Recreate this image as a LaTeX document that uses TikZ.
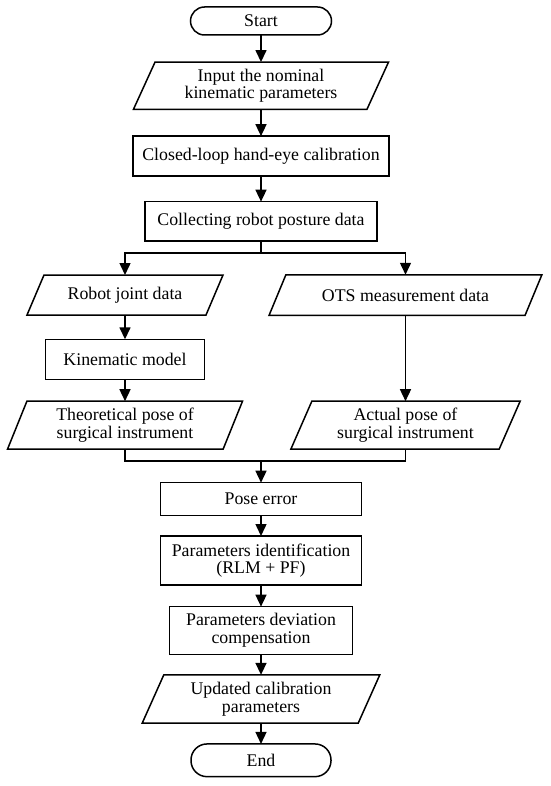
\documentclass[tikz,border=0pt]{standalone}
\usepackage{fontspec}
\setmainfont{Liberation Serif}
\usetikzlibrary{arrows.meta,calc}
\newcommand\parabox[2]{\draw[lineS] ($(#1.north west)+(#2,0)$) -- ($(#1.north east)+(#2,0)$) -- ($(#1.south east)+(-#2,0)$) -- ($(#1.south west)+(-#2,0)$) -- cycle;}
\begin{document}
\begin{tikzpicture}[x=1pt,y=-1pt,
  every node/.style={font=\fontsize{17.8}{17.6}\selectfont, align=center, inner sep=0pt, outer sep=0pt, text=black},
  lineS/.style={draw=black, line width=1.5pt, line join=miter},
  proc/.style={lineS},
  term/.style={lineS, rounded corners=#1},
  para/.style={},
  arr/.style={draw=black, line width=1.5pt, -{Triangle[length=12pt,width=11pt]}},
  conn/.style={draw=black, line width=1.5pt}
]
\fill[white] (0,0) rectangle (550,786);
\useasboundingbox (0,0) rectangle (550,786);

\node[term=14pt, minimum width=141, minimum height=28] (start) at (261,21) {Start};
\node[para, minimum width=233.5, minimum height=47.3] (input) at (261,85.7) {Input the nominal\\kinematic parameters};
\node[proc, minimum width=255.7, minimum height=39.7] (closed) at (261,156) {Closed-loop hand-eye calibration};
\node[proc, minimum width=231.7, minimum height=39.3] (collect) at (261,221.3) {Collecting robot posture data};
\node[para, minimum width=179, minimum height=40] (joint) at (125,295) {Robot joint data};
\node[para, minimum width=256, minimum height=40.5] (ots) at (405.5,295) {OTS measurement data};
\node[proc, minimum width=159, minimum height=40] (kin) at (125,359.3) {Kinematic model};
\node[para, minimum width=215.6, minimum height=48] (theo) at (125,425.2) {Theoretical pose of\\surgical instrument};
\node[para, minimum width=208.3, minimum height=48] (actual) at (405.5,425.2) {Actual pose of\\surgical instrument};
\node[proc, minimum width=200.7, minimum height=33] (pose) at (261,499.2) {Pose error};
\node[proc, minimum width=200.7, minimum height=49] (ident) at (261,560.5) {Parameters identification\\(RLM + PF)};
\node[proc, minimum width=182.7, minimum height=47.7] (comp) at (261,630.5) {Parameters deviation\\compensation};
\node[para, minimum width=216, minimum height=48.3] (upd) at (261,699) {Updated calibration\\parameters};
\node[term=16pt, minimum width=140, minimum height=32.7] (end) at (261,760.3) {End};

\parabox{input}{10.8}
\parabox{joint}{8.5}
\parabox{ots}{8.4}
\parabox{theo}{9.7}
\parabox{actual}{10.5}
\parabox{upd}{10.8}

\coordinate (split) at (261,253);
\coordinate (merge) at (261,461);

\draw[arr] (start) -- (input);
\draw[arr] (input) -- (closed);
\draw[arr] (closed) -- (collect);
\draw[conn] (collect.south) -- (split);
\draw[arr] (split) -| (joint.north);
\draw[arr] (split) -| (ots.north);
\draw[arr] (joint) -- (kin);
\draw[arr] (kin) -- (theo);
\draw[arr] (ots) -- (actual);
\draw[conn] (theo.south) |- (merge) -| (actual.south);
\draw[arr] (merge) -- (pose.north);
\draw[arr] (pose) -- (ident);
\draw[arr] (ident) -- (comp);
\draw[arr] (comp) -- (upd);
\draw[arr] (upd) -- (end);
\end{tikzpicture}
\end{document}
